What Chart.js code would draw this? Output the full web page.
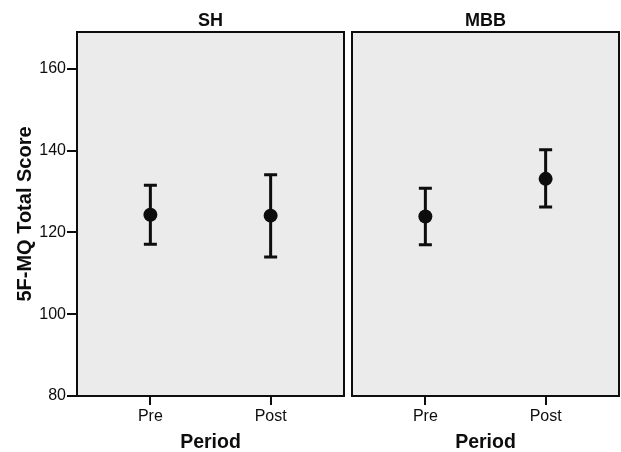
<!DOCTYPE html>
<html>
<head>
<meta charset="utf-8">
<script src="https://cdn.jsdelivr.net/npm/chart.js@4.4.0/dist/chart.umd.min.js"></script>
<style>
  html, body { margin: 0; padding: 0; background: #fff; overflow: hidden; }
  .row { display: flex; width: 621px; height: 452px; }
  canvas { display: block; flex: none; }
</style>
</head>
<body>
<div class="row">
  <canvas id="chartSH" width="348" height="452"></canvas>
  <canvas id="chartMBB" width="273" height="452"></canvas>
</div>
<script>
/* ========== Data ========== */
const periods = ['Pre', 'Post'];
const panels = ['SH', 'MBB'];
const yTicks = [80, 100, 120, 140, 160];

const shMean = [124.3, 124.1];
const shLow  = [117.1, 114.0];
const shHigh = [131.5, 134.1];

const mbbMean = [123.9, 133.1];
const mbbLow  = [117.0, 126.2];
const mbbHigh = [130.8, 140.2];

/* ========== Style ========== */
const INK = '#0d0d0d';
const PANEL_BG = '#ebebeb';
const FONT = "'Liberation Sans', Arial, sans-serif";

Chart.defaults.font.family = FONT;
Chart.defaults.color = INK;

/* ========== Plugins ========== */
// grey panel, black frame and the panel label centred over the plot area
const panelPlugin = {
  id: 'panel',
  beforeDraw(chart) {
    const { ctx, chartArea: a } = chart;
    ctx.save();
    ctx.fillStyle = '#ffffff';
    ctx.fillRect(0, 0, chart.width, chart.height);
    ctx.fillStyle = PANEL_BG;
    ctx.fillRect(a.left, a.top, a.right - a.left, a.bottom - a.top);
    ctx.restore();
  },
  afterDraw(chart, args, opts) {
    const { ctx, chartArea: a } = chart;
    ctx.save();
    ctx.strokeStyle = INK;
    ctx.lineWidth = 2;
    ctx.strokeRect(a.left, a.top, a.right - a.left, a.bottom - a.top);
    ctx.fillStyle = INK;
    ctx.font = 'bold 18px ' + FONT;
    ctx.textAlign = 'center';
    ctx.textBaseline = 'middle';
    ctx.fillText(opts.label, (a.left + a.right) / 2, a.top - 11);
    ctx.restore();
  }
};

// error bars from the dataset's low/high arrays
const errorBarPlugin = {
  id: 'errorBars',
  beforeDatasetsDraw(chart) {
    const { ctx, scales: { x, y } } = chart;
    const ds = chart.data.datasets[0];
    ctx.save();
    ctx.strokeStyle = INK;
    ctx.lineWidth = 3;
    ds.low.forEach((lo, i) => {
      const px = x.getPixelForValue(i);
      const yLo = y.getPixelForValue(lo);
      const yHi = y.getPixelForValue(ds.high[i]);
      ctx.beginPath();
      ctx.moveTo(px, yLo); ctx.lineTo(px, yHi);
      ctx.moveTo(px - 6.5, yLo); ctx.lineTo(px + 6.5, yLo);
      ctx.moveTo(px - 6.5, yHi); ctx.lineTo(px + 6.5, yHi);
      ctx.stroke();
    });
    ctx.restore();
  }
};

/* ========== Chart builder ========== */
function makePanel(canvasId, title, mean, low, high, showY, padding) {
  return new Chart(document.getElementById(canvasId), {
    type: 'scatter',
    data: {
      datasets: [{
        data: periods.map((p, i) => ({ x: i, y: mean[i] })),
        low: low,
        high: high,
        pointRadius: 7,
        pointBackgroundColor: INK,
        pointBorderColor: INK,
        pointBorderWidth: 0
      }]
    },
    options: {
      responsive: false,
      animation: false,
      events: [],
      layout: { padding: padding, autoPadding: false },
      plugins: {
        legend: { display: false },
        tooltip: { enabled: false },
        title: { display: false },
        panel: { label: title }
      },
      scales: {
        x: {
          type: 'linear',
          min: -0.61,
          max: 1.61,
          afterBuildTicks: s => { s.ticks = periods.map((p, i) => ({ value: i })); },
          afterFit: s => { s.height = 56; s.paddingLeft = 0; s.paddingRight = 0; },
          ticks: {
            callback: v => periods[v],
            color: INK,
            font: { size: 16 },
            padding: 2,
            maxRotation: 0
          },
          grid: { drawOnChartArea: false, drawTicks: true, tickLength: 9, color: INK, lineWidth: 2 },
          border: { display: false },
          title: {
            display: true,
            text: 'Period',
            color: INK,
            font: { size: 19.5, weight: 'bold', lineHeight: 1 },
            padding: { top: 0, bottom: 0 }
          }
        },
        y: {
          display: showY,
          min: 80,
          max: 169,
          afterBuildTicks: s => { s.ticks = yTicks.map(v => ({ value: v })); },
          afterFit: s => { if (showY) s.width = 77; s.paddingTop = 0; s.paddingBottom = 0; },
          ticks: { color: INK, font: { size: 16 }, padding: 1 },
          grid: { drawOnChartArea: false, drawTicks: true, tickLength: 10, color: INK, lineWidth: 2 },
          border: { display: false },
          title: {
            display: true,
            text: '5F-MQ Total Score',
            color: INK,
            font: { size: 20, weight: 'bold', lineHeight: 1.2 },
            padding: { top: 13, bottom: 0 }
          }
        }
      }
    },
    plugins: [panelPlugin, errorBarPlugin]
  });
}

makePanel('chartSH', panels[0], shMean, shLow, shHigh, true, { top: 32, right: 4, bottom: 0, left: 0 });
makePanel('chartMBB', panels[1], mbbMean, mbbLow, mbbHigh, false, { top: 32, right: 2, bottom: 0, left: 4 });
</script>
</body>
</html>
